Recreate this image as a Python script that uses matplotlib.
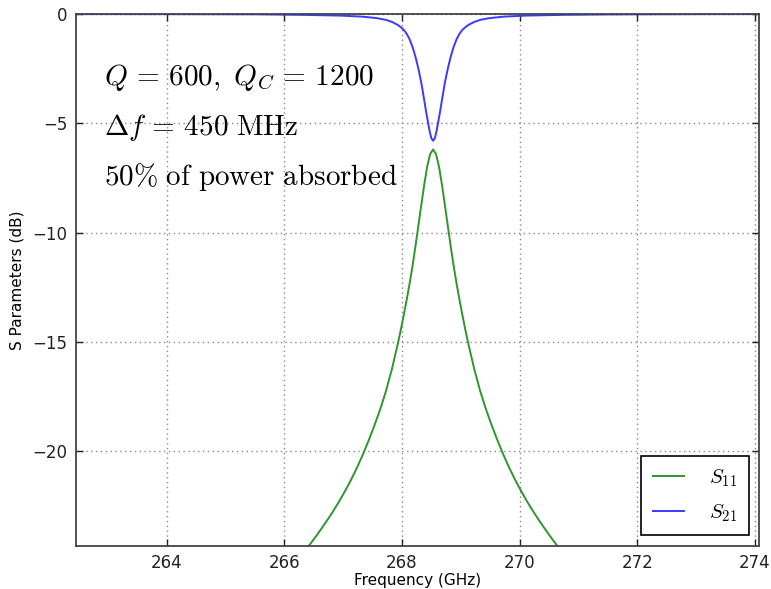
import matplotlib
matplotlib.use("Agg")
import matplotlib.pyplot as plt

# ---- data ----
freq_s11 = [263.03, 264.33, 265.33, 265.93, 266.23, 266.33, 266.43, 266.53, 266.63,
            266.73, 266.83, 266.93, 267.03, 267.13, 267.23, 267.33, 267.43, 267.53,
            267.63, 267.73, 267.83, 267.93, 267.98, 268.03, 268.08, 268.13, 268.18,
            268.23, 268.28, 268.33, 268.38, 268.43, 268.48,
            268.53,
            268.58, 268.63, 268.68, 268.73, 268.78, 268.83, 268.88, 268.93, 268.98,
            269.03, 269.08, 269.13, 269.23, 269.33, 269.43, 269.53, 269.63, 269.73,
            269.83, 269.93, 270.03, 270.13, 270.23, 270.33, 270.43, 270.53, 270.63,
            270.73, 270.83, 271.13, 271.73, 272.73, 274.03]
s11_db = [-32.0, -30.0, -27.8, -26.0, -25.0, -24.65, -24.3, -23.94, -23.56,
          -23.17, -22.76, -22.32, -21.85, -21.35, -20.8, -20.2, -19.55, -18.85,
          -18.1, -17.25, -16.25, -15.1, -14.47, -13.8, -13.1, -12.35, -11.54,
          -10.64, -9.69, -8.73, -7.8, -6.98, -6.41,
          -6.2,
          -6.41, -6.98, -7.8, -8.73, -9.69, -10.64, -11.54, -12.35, -13.1,
          -13.8, -14.47, -15.1, -16.25, -17.25, -18.1, -18.85, -19.55, -20.2,
          -20.8, -21.35, -21.85, -22.32, -22.76, -23.17, -23.56, -23.94, -24.3,
          -24.65, -25.0, -26.0, -27.8, -30.0, -32.0]

freq_s21 = [262.4, 264.0, 265.5, 266.33, 266.93, 267.33, 267.58, 267.73, 267.83,
            267.93, 267.98, 268.03, 268.08, 268.13, 268.18, 268.23, 268.28, 268.33,
            268.38, 268.41, 268.44, 268.47, 268.50, 268.53,
            268.56, 268.59, 268.62, 268.65, 268.68, 268.73, 268.78, 268.83,
            268.88, 268.93, 268.98, 269.03, 269.08, 269.13, 269.23, 269.33,
            269.48, 269.73, 270.13, 270.73, 271.53, 273.0, 274.2]
s21_db = [-0.004, -0.008, -0.015, -0.04, -0.07, -0.12, -0.19, -0.27, -0.36,
          -0.5, -0.6, -0.72, -0.9, -1.15, -1.5, -1.95, -2.5, -3.15,
          -3.95, -4.45, -4.9, -5.35, -5.68, -5.8,
          -5.68, -5.35, -4.9, -4.45, -3.95, -3.15, -2.5, -1.95,
          -1.5, -1.15, -0.9, -0.72, -0.6, -0.5, -0.36, -0.27,
          -0.19, -0.12, -0.07, -0.04, -0.02, -0.008, -0.004]

xticks = [264, 266, 268, 270, 272, 274]
yticks = [0, -5, -10, -15, -20]
annotations = [r'$Q\,=\,600,\ Q_C\,=\,1200$', r'$\Delta f\,=\,450\ \mathrm{MHz}$',
               r'$\mathrm{50\%\ of\ power\ absorbed}$']

plt.rcParams['mathtext.fontset'] = 'cm'
plt.rcParams['font.family'] = ['DejaVu Sans']

fig = plt.figure(figsize=(7.71, 5.89), dpi=100)
ax = fig.add_axes([0.0986, 0.0737, 0.8858, 0.9025])

ax.plot(freq_s11, s11_db, color='#2e962e', lw=1.4, label=r'$S_{11}$')
ax.plot(freq_s21, s21_db, color='#3a3aff', lw=1.4, label=r'$S_{21}$')

ax.set_xlim(262.46, 274.07)
ax.set_ylim(-24.33, 0)
ax.set_xticks(xticks)
ax.set_yticks(yticks)
ax.set_xticklabels([str(t) for t in xticks])
ax.set_yticklabels(['\u2212' + str(-t) if t < 0 else str(t) for t in yticks])
ax.tick_params(direction='in', top=True, right=True, length=5, width=1,
               labelsize=12, colors='#222222', pad=6)
ax.grid(True, linestyle=(0, (1, 2.5)), color='#888888', lw=1)
for s in ax.spines.values():
    s.set_color('#444444')
    s.set_linewidth(1.3)

ax.set_xlabel('Frequency (GHz)', fontsize=11, labelpad=1)
ax.set_ylabel('S Parameters (dB)', fontsize=11, labelpad=6)

ys = [-2.9, -5.2, -7.45]
for t, y in zip(annotations, ys):
    ax.text(262.93, y, t, fontsize=21, va='center', ha='left')

leg = ax.legend(loc='lower right', fontsize=15, fancybox=False, framealpha=1,
                edgecolor='black', handlelength=1.5, handletextpad=1.2,
                borderpad=0.55, labelspacing=0.65, borderaxespad=0.5)
leg.get_frame().set_linewidth(1.2)

fig.savefig('out.png', dpi=100)
